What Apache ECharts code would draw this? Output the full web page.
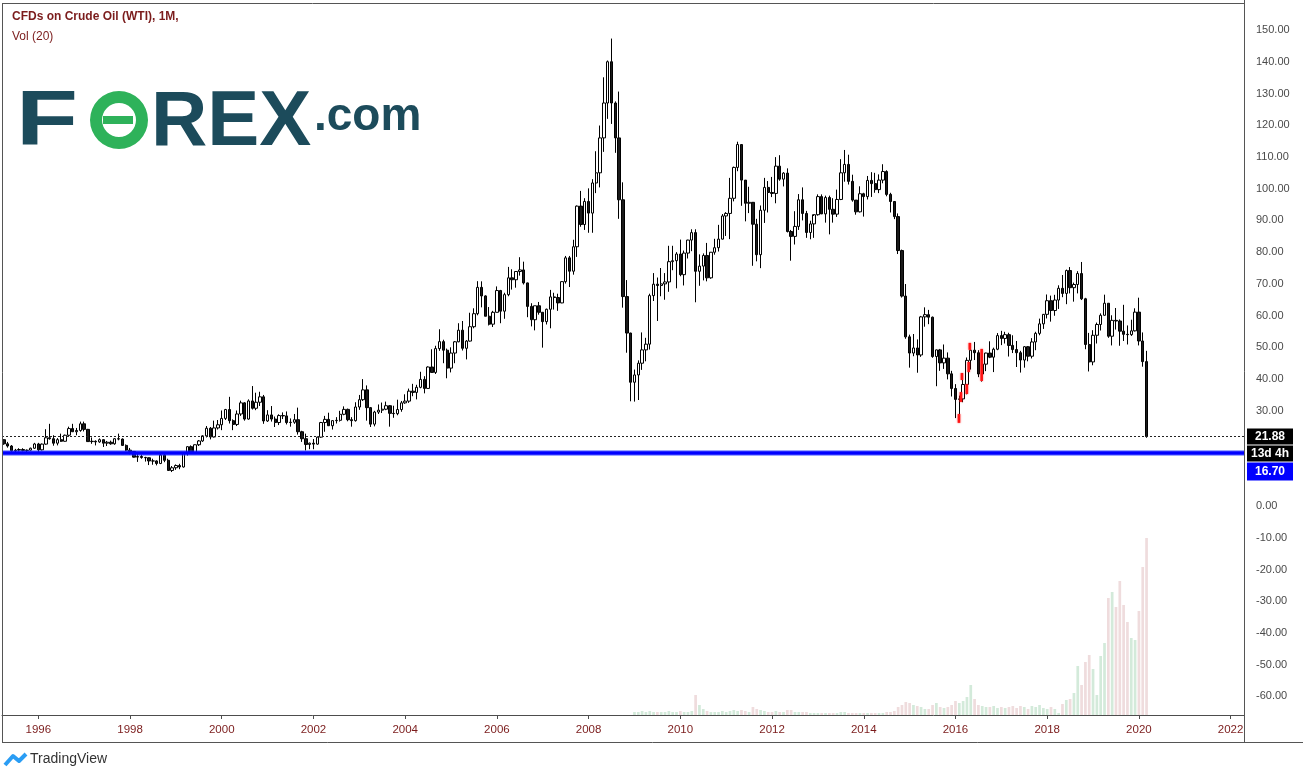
<!DOCTYPE html>
<html><head><meta charset="utf-8">
<script src="https://cdn.jsdelivr.net/npm/echarts@6/dist/echarts.min.js"></script>
<style>html,body{margin:0;padding:0;background:#fff}#c{width:1303px;height:779px}</style>
</head><body><div id="c"></div>
<script>
// ---------------- DATA ----------------
const startMonth = '1995-04';
const slotCount = 325; // monthly slots shown on the time axis (to 2022)
// monthly candles [open, high, low, close], Apr 1995 .. Mar 2020
const candles = [
// 1995 Apr-Dec
[20.9,21.0,19.3,19.6],[19.6,20.2,18.4,18.9],[18.9,19.2,17.1,17.4],[17.4,18.0,16.8,17.6],[17.6,18.2,17.2,17.8],[17.8,18.2,17.2,17.5],[17.5,17.8,16.9,17.6],[17.6,18.4,17.4,18.2],[18.2,19.9,18.0,19.55],
// 1996
[19.55,19.9,17.1,17.7],[17.7,19.7,17.5,19.5],[19.5,24.2,19.3,21.5],[21.5,25.9,20.9,21.2],[21.2,22.3,19.0,19.8],[19.8,21.4,19.1,20.9],[20.9,22.8,20.2,20.4],[20.4,22.5,20.3,22.3],[22.3,25.0,21.8,24.4],[24.4,25.9,23.4,23.4],[23.4,24.6,22.3,23.8],[23.8,26.6,23.4,25.9],
// 1997
[25.9,26.6,23.5,24.15],[24.15,24.3,20.3,20.3],[20.3,21.6,19.6,20.4],[20.4,20.7,19.1,20.2],[20.2,21.3,19.9,20.9],[20.9,21.0,18.6,19.8],[19.8,20.5,18.9,20.1],[20.1,20.6,19.3,19.6],[19.6,21.4,19.3,21.2],[21.2,22.8,20.7,21.1],[21.1,21.3,19.0,19.1],[19.1,19.4,17.3,17.6],
// 1998
[17.6,18.3,16.3,17.2],[17.2,17.3,15.3,15.4],[15.4,16.4,13.9,15.6],[15.6,16.2,14.9,15.3],[15.3,15.5,14.0,15.2],[15.2,15.3,12.9,14.2],[14.2,14.9,13.0,14.2],[14.2,14.4,12.8,13.4],[13.4,16.7,13.2,16.1],[16.1,16.6,13.8,14.4],[14.4,14.9,11.2,11.2],[11.2,12.6,10.7,12.05],
// 1999
[12.05,13.1,11.4,12.75],[12.75,13.3,11.6,12.3],[12.3,16.9,12.1,16.8],[16.8,18.8,15.9,18.7],[18.7,19.1,16.5,16.8],[16.8,19.4,16.5,19.3],[19.3,20.8,18.9,20.5],[20.5,22.3,20.2,22.1],[22.1,25.2,21.6,24.5],[24.5,24.9,21.0,21.75],[21.75,26.9,21.6,24.6],[24.6,27.1,24.1,25.6],
// 2000
[25.6,30.1,23.9,27.6],[27.6,30.6,27.1,30.4],[30.4,34.4,26.0,26.9],[26.9,27.3,23.9,25.7],[25.7,30.1,25.2,29.0],[29.0,33.2,28.4,32.5],[32.5,32.7,26.9,27.4],[27.4,33.6,27.2,33.1],[33.1,37.8,30.4,30.8],[30.8,35.7,30.2,32.7],[32.7,36.0,31.5,34.4],[34.4,35.0,25.9,26.8],
// 2001
[26.8,30.2,26.5,28.7],[28.7,31.5,26.6,27.4],[27.4,28.2,24.9,26.3],[26.3,28.9,25.5,28.5],[28.5,29.5,27.4,28.4],[28.4,29.8,25.7,26.3],[26.3,27.6,25.0,26.4],[26.4,29.0,25.9,27.2],[27.2,31.0,22.5,23.4],[23.4,23.7,20.2,21.2],[21.2,22.8,17.5,19.4],[19.4,20.0,17.9,19.8],
// 2002
[19.8,21.1,17.9,19.5],[19.5,21.9,19.3,21.7],[21.7,26.5,21.5,26.3],[26.3,28.4,23.4,27.3],[27.3,29.4,25.2,25.3],[25.3,27.0,24.1,26.9],[26.9,28.0,26.0,27.0],[27.0,30.0,26.6,28.9],[28.9,31.4,28.6,30.45],[30.45,30.7,26.7,27.2],[27.2,28.0,25.0,26.9],[26.9,32.7,26.6,31.2],
// 2003
[31.2,35.0,30.3,33.5],[33.5,39.99,33.1,36.6],[36.6,38.0,26.9,31.0],[31.0,31.2,24.9,25.8],[25.8,30.0,25.1,29.6],[29.6,32.0,29.0,30.2],[30.2,32.6,29.3,30.5],[30.5,32.9,30.2,31.6],[31.6,31.8,25.0,29.2],[29.2,31.6,27.8,29.1],[29.1,33.5,28.6,30.4],[30.4,33.1,29.7,32.5],
// 2004
[32.5,35.2,32.2,33.05],[33.05,37.0,32.5,36.2],[36.2,38.5,34.6,35.8],[35.8,38.2,33.6,37.4],[37.4,42.3,37.1,39.9],[39.9,40.9,35.5,37.05],[37.05,44.0,37.0,43.8],[43.8,49.4,42.0,42.1],[42.1,50.5,41.6,49.6],[49.6,55.7,48.9,51.8],[51.8,52.4,45.0,49.1],[49.1,49.6,40.25,43.45],
// 2005
[43.45,50.0,42.1,48.2],[48.2,52.0,45.0,51.75],[51.75,57.6,51.6,55.4],[55.4,58.3,49.0,49.7],[49.7,52.3,46.2,51.97],[51.97,60.9,51.8,56.5],[56.5,62.3,56.0,60.6],[60.6,70.85,60.1,68.9],[68.9,70.8,62.6,66.2],[66.2,66.4,59.8,59.8],[59.8,62.7,56.9,57.3],[57.3,61.5,56.4,61.04],
// 2006
[61.04,69.2,61.0,67.9],[67.9,68.1,57.6,61.4],[61.4,67.2,59.0,66.6],[66.6,75.35,66.1,71.9],[71.9,74.6,68.2,71.3],[71.3,74.0,68.8,73.9],[73.9,78.4,72.6,74.4],[74.4,77.0,69.8,70.3],[70.3,70.4,59.5,62.9],[62.9,63.9,56.6,58.7],[58.7,63.1,55.35,63.1],[63.1,64.3,60.3,61.05],
// 2007
[61.05,61.1,49.9,58.1],[58.1,62.2,57.2,62.0],[62.0,68.1,56.0,65.9],[65.9,67.2,61.9,65.7],[65.7,66.9,61.5,64.0],[64.0,70.8,63.9,70.7],[70.7,78.8,70.1,78.2],[78.2,78.8,69.0,74.0],[74.0,83.9,72.9,81.7],[81.7,94.7,78.5,94.5],[94.5,99.3,88.0,88.7],[88.7,97.0,87.0,95.98],
// 2008
[95.98,100.1,86.1,92.3],[92.3,103.0,86.1,101.8],[101.8,111.8,98.6,105.0],[105.0,119.9,100.4,116.0],[116.0,135.1,111.6,127.0],[127.0,140.4,122.0,140.0],[140.0,147.3,120.4,127.0],[127.0,127.5,111.3,116.0],[116.0,130.6,90.5,96.5],[96.5,102.0,62.5,66.0],[66.0,71.2,48.3,54.5],[54.5,54.6,33.0,39.0],
// 2009
[39.0,43.0,32.9,41.3],[41.3,45.9,33.4,45.0],[45.0,54.7,42.9,49.2],[49.2,53.0,45.6,51.0],[51.0,66.9,49.3,66.3],[66.3,73.4,64.6,69.9],[69.9,72.0,58.3,69.5],[69.5,75.0,66.1,70.0],[70.0,73.4,65.0,70.6],[70.6,82.0,67.5,77.0],[77.0,82.0,74.3,77.3],[77.3,80.0,68.6,79.4],
// 2010
[79.4,83.95,72.4,72.9],[72.9,80.5,69.5,79.7],[79.7,83.9,78.0,83.8],[83.8,87.2,80.3,86.15],[86.15,87.2,64.2,73.97],[73.97,79.3,69.4,75.6],[75.6,79.6,71.1,78.95],[78.95,82.9,70.8,71.9],[71.9,80.0,71.6,79.97],[79.97,84.2,79.2,81.4],[81.4,88.6,80.2,84.1],[84.1,92.0,84.0,91.4],
// 2011
[91.4,92.6,85.1,92.2],[92.2,103.4,84.1,96.97],[96.97,106.95,96.0,106.7],[106.7,114.8,105.5,113.9],[113.9,114.0,94.6,102.7],[102.7,102.7,89.7,95.4],[95.4,100.6,92.3,95.7],[95.7,95.8,75.7,88.8],[88.8,90.5,77.1,79.2],[79.2,94.7,74.95,93.2],[93.2,103.4,89.2,100.4],[100.4,102.4,92.5,98.8],
// 2012
[98.8,103.7,97.35,98.5],[98.5,109.95,95.4,107.1],[107.1,110.55,102.5,103.0],[103.0,105.2,100.7,104.9],[104.9,106.4,86.2,86.5],[86.5,87.0,77.3,84.96],[84.96,92.9,82.4,88.1],[88.1,98.3,87.0,96.5],[96.5,100.4,90.0,92.2],[92.2,93.0,84.5,86.2],[86.2,89.9,84.05,88.9],[88.9,91.4,84.5,91.8],
// 2013
[91.8,98.2,91.5,97.5],[97.5,98.2,92.0,92.05],[92.05,97.8,89.3,97.2],[97.2,97.8,85.6,93.5],[93.5,97.0,89.3,91.97],[91.97,99.7,91.1,96.6],[96.6,109.3,96.4,105.0],[105.0,112.2,102.2,107.65],[107.65,110.7,101.3,102.3],[102.3,104.4,95.9,96.4],[96.4,96.4,91.8,92.7],[92.7,100.75,92.5,98.4],
// 2014
[98.4,98.7,91.2,97.5],[97.5,104.0,96.6,102.6],[102.6,105.2,97.4,101.6],[101.6,104.99,98.7,99.7],[99.7,104.5,98.6,102.7],[102.7,107.7,101.7,105.4],[105.4,105.8,97.6,98.2],[98.2,98.7,92.5,95.96],[95.96,96.1,90.4,91.2],[91.2,92.2,79.4,80.5],[80.5,80.8,65.7,66.15],[66.15,69.95,52.7,53.3],
// 2015
[53.3,54.0,43.6,48.2],[48.2,54.2,47.2,49.8],[49.8,52.5,42.0,47.6],[47.6,59.9,47.0,59.6],[59.6,62.6,56.5,60.3],[60.3,61.8,57.3,59.5],[59.5,59.7,46.7,47.1],[47.1,49.3,37.75,49.2],[49.2,49.5,42.6,45.1],[45.1,50.9,43.2,46.6],[46.6,48.4,39.9,41.65],[41.65,42.6,34.5,37.04],
// 2016
[37.04,38.4,27.7,33.6],[33.6,34.8,28.0,33.75],[33.75,41.9,32.7,38.3],[38.3,46.8,35.2,45.9],[45.9,50.2,43.0,49.1],[49.1,51.7,46.0,48.3],[48.3,49.1,40.6,41.6],[41.6,48.75,39.2,44.7],[44.7,48.3,42.5,48.2],[48.2,51.9,46.6,46.9],[46.9,49.9,42.2,49.4],[49.4,54.5,49.1,53.7],
// 2017
[53.7,55.2,50.7,52.8],[52.8,54.9,51.2,54.0],[54.0,54.6,47.1,50.6],[50.6,53.8,48.2,49.3],[49.3,52.0,43.8,48.3],[48.3,48.9,42.05,46.0],[46.0,50.4,43.6,50.2],[50.2,50.4,45.6,47.2],[47.2,52.9,46.5,51.7],[51.7,54.9,49.1,54.4],[54.4,59.05,53.8,57.4],[57.4,60.5,55.8,60.4],
// 2018
[60.4,66.66,59.1,64.7],[64.7,66.3,58.1,61.6],[61.6,66.55,59.95,64.9],[64.9,69.55,62.1,68.6],[68.6,72.8,65.8,67.0],[67.0,74.5,63.6,74.2],[74.2,75.3,67.0,68.8],[68.8,70.4,64.4,69.8],[69.8,74.0,67.0,73.25],[73.25,76.9,64.9,65.3],[65.3,65.6,49.4,50.9],[50.9,54.55,42.4,45.4],
// 2019
[45.4,55.4,44.35,53.8],[53.8,57.8,51.2,57.2],[57.2,60.7,55.3,60.1],[60.1,66.6,60.0,63.9],[63.9,63.9,53.0,53.5],[53.5,60.1,50.6,58.5],[58.5,62.4,55.6,58.3],[58.3,58.8,50.5,55.1],[55.1,63.4,52.0,54.1],[54.1,56.9,50.9,54.0],[54.0,58.7,53.6,55.2],[55.2,62.3,55.0,61.1],
// 2020 Jan-Mar
[61.1,65.65,50.6,52.0],[52.0,54.7,43.9,45.5],[45.5,48.9,21.5,21.88]
];
// volume (relative units), monthly from Jan 2009
const volumeStart = '2009-01';
const volumes = [
3,3,4,3,4,3,3,3,3,4,3,3,
4,3,3,4,20,10,6,4,3,3,3,4,
3,4,5,4,5,4,3,8,6,5,4,3,
3,4,3,3,5,5,3,3,3,3,2,2,
2,2,2,2,2,2,3,3,2,2,2,2,
2,2,2,2,2,2,3,3,4,8,10,13,
12,10,9,8,6,6,10,12,8,7,8,10,
14,12,14,18,30,16,10,9,8,8,9,7,
8,7,8,9,7,9,8,6,9,8,10,7,
6,8,6,2,11,15,16,22,49,30,53,60,
46,20,59,72,117,123,108,134,110,93,77,75,
104,148,177
];
const yTickValues = [150,140,130,120,110,100,90,80,70,60,50,40,30,0,-10,-20,-30,-40,-50,-60];
const lastPrice = 21.88;
const supportLevel = 16.70;
const countdown = '13d 4h';
// red marks overlaid in early 2016 [date, low, high]
const redMarks = [['2016-02-13',26.2,29.0],['2016-02-28',32.8,35.9],['2016-03-07',39.7,41.9],['2016-04-15',35.3,38.4],['2016-04-30',42.2,45.4],['2016-05-09',49.2,51.4],['2016-08-12',39.4,49.5]];

// ---------------- BUILD ----------------
const base = 1995*12+3;
const months = [];
for (let i=0;i<slotCount;i++){const m=base+i;months.push(Math.floor(m/12)+'-'+String(m%12+1).padStart(2,'0'));}
const candleData = candles.map(r=>[r[0],r[3],r[2],r[1]]);
const volOffset = months.indexOf(volumeStart);
const volData = months.map(()=> '-');
volumes.forEach((v,j)=>{const c=candles[volOffset+j];const up=c[3]>=c[0];volData[volOffset+j]={value:v,itemStyle:{color:up?'#d3eada':'#efdcdd'}};});
function dateToSlot(s){const [y,m,d]=s.split('-').map(Number);const idx=y*12+m-1-base;const dim=new Date(y,m,0).getDate();return idx-0.5+(d-1)/dim;}
const redData = redMarks.map(r=>[dateToSlot(r[0]),r[1],r[2]]);
const isYearTick = (i,v)=>{const y=+v.slice(0,4);return v.slice(5)==='01'&&y%2===0;};

const G = {left:2, top:3, width:1242, height:712};
const yMin=-65.86, yMax=158.51;
const maroon='#7b1c1c';
const chart = echarts.init(document.getElementById('c'));
chart.setOption({
  animation:false,
  grid:[{left:G.left,top:G.top,width:G.width,height:G.height,containLabel:false}],
  xAxis:[
    {type:'category',gridIndex:0,data:months,boundaryGap:true,position:'bottom',
     axisLine:{show:true,onZero:false,lineStyle:{color:'#4d4d4d',width:1}},
     axisTick:{show:true,interval:isYearTick,alignWithLabel:true,length:4,lineStyle:{color:'#4d4d4d'}},
     axisLabel:{show:true,interval:isYearTick,formatter:v=>v.slice(0,4),color:maroon,fontSize:11.5,fontFamily:'Liberation Sans, Arial, sans-serif',margin:9},
     splitLine:{show:false}},
    {type:'value',gridIndex:0,min:-0.5,max:slotCount-0.5,show:false}
  ],
  yAxis:[
    {type:'value',gridIndex:0,position:'right',min:yMin,max:yMax,scale:true,
     axisLine:{show:false},axisTick:{show:false},splitLine:{show:false},
     axisLabel:{show:true,customValues:yTickValues,formatter:v=>v.toFixed(2),color:'#4a4a4a',fontSize:11,fontFamily:'Liberation Sans, Arial, sans-serif',margin:12}},
    {type:'value',gridIndex:0,min:0,max:712,show:false}
  ],
  series:[
    {type:'bar',xAxisIndex:0,yAxisIndex:1,data:volData,barWidth:2.7,z:1,silent:true},
    {type:'candlestick',xAxisIndex:0,yAxisIndex:0,data:candleData,barWidth:2.9,z:3,
     itemStyle:{color:'#ffffff',color0:'#1a1a1a',borderColor:'#000000',borderColor0:'#000000',borderWidth:1},
     markLine:{silent:true,symbol:'none',label:{show:false},animation:false,
       data:[
        {yAxis:lastPrice,lineStyle:{type:[2,2],color:'#222',width:1}},
        {yAxis:supportLevel,lineStyle:{type:'solid',color:'rgba(40,60,255,0.45)',width:6}},
        {yAxis:supportLevel,lineStyle:{type:'solid',color:'#0000ff',width:3.5}}
       ]}},
    {type:'custom',xAxisIndex:1,yAxisIndex:0,z:4,data:redData,
     renderItem:(p,api)=>{const a=api.coord([api.value(0),api.value(1)]);const b=api.coord([api.value(0),api.value(2)]);
       return {type:'line',shape:{x1:a[0],y1:a[1],x2:b[0],y2:b[1]},style:{stroke:'#ff1414',lineWidth:2.6,shadowBlur:2,shadowColor:'rgba(255,0,0,0.6)'}};}}
  ]
});

// overlays: frame, labels, logos
const yLast = chart.convertToPixel({yAxisIndex:0}, lastPrice);
const axX = G.left+G.width;
const lab = (y,h,bg,text)=>({type:'group',z:100,children:[
  {type:'rect',shape:{x:axX+3,y:y,width:46,height:h},style:{fill:bg}},
  {type:'text',style:{x:axX+3+23,y:y+h/2,text:text,fill:'#fff',font:'bold 12px "Liberation Sans", Arial, sans-serif',align:'center',verticalAlign:'middle'}}]});
const darkTeal='#1c4b5b', green='#2eb25a';
const FL = 'bold 78px "Liberation Sans", Arial, sans-serif';
chart.setOption({graphic:[
  {type:'line',z:50,shape:{x1:2.5,y1:3,x2:2.5,y2:742.5},style:{stroke:'#555',lineWidth:1}},
  {type:'line',z:50,shape:{x1:2,y1:3.5,x2:axX,y2:3.5},style:{stroke:'#555',lineWidth:1}},
  {type:'line',z:50,shape:{x1:2,y1:742.5,x2:1303,y2:742.5},style:{stroke:'#555',lineWidth:1}},
  {type:'line',z:50,shape:{x1:axX+0.5,y1:0,x2:axX+0.5,y2:742.5},style:{stroke:'#555',lineWidth:1}},
  {type:'text',z:60,style:{x:12,y:11,text:'CFDs on Crude Oil (WTI), 1M,',fill:maroon,font:'bold 12px "Liberation Sans", Arial, sans-serif'}},
  {type:'text',z:60,style:{x:12,y:31,text:'Vol (20)',fill:maroon,font:'12px "Liberation Sans", Arial, sans-serif'}},
  lab(yLast-8,16,'#000000',lastPrice.toFixed(2)),
  lab(yLast+9,16,'#000000',countdown),
  lab(yLast+26,18,'#0000ff',supportLevel.toFixed(2)),
  // FOREX.com logo
  {type:'text',z:60,x:16,y:84,scaleX:1.3,style:{x:0,y:0,text:'F',fill:darkTeal,font:FL}},
  {type:'ring',z:60,shape:{cx:119,cy:120,r:29,r0:17},style:{fill:green}},
  {type:'rect',z:61,shape:{x:103,y:116,width:30,height:8},style:{fill:green}},
  {type:'text',z:60,style:{x:151,y:84,text:'REX',fill:darkTeal,font:FL}},
  {type:'text',z:60,style:{x:314,y:94,text:'.com',fill:darkTeal,font:'bold 46px "Liberation Sans", Arial, sans-serif'}},
  // TradingView footer
  {type:'polyline',z:60,shape:{points:[[5,765],[13,756],[19,761],[26,754]]},style:{stroke:'#2a9df4',lineWidth:4,fill:null,lineJoin:'round'}},
  {type:'text',z:60,style:{x:30,y:752,text:'TradingView',fill:'#333',font:'14px "Liberation Sans", Arial, sans-serif'}}
]});
</script></body></html>
